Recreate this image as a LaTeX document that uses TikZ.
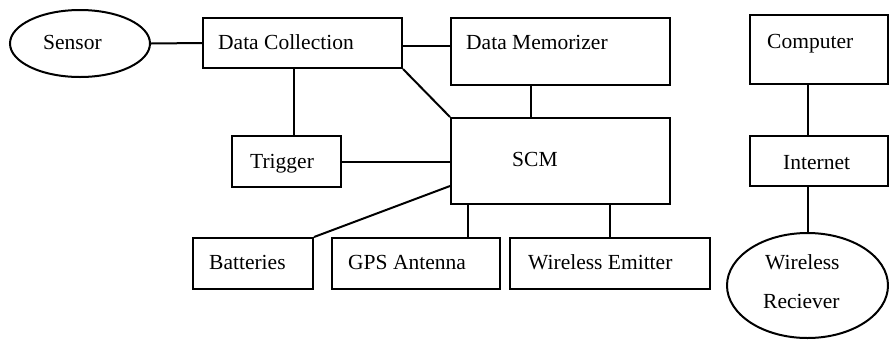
\documentclass[tikz,border=0pt]{standalone}
\usepackage{fontspec}
\setmainfont{Liberation Serif}
\usetikzlibrary{shapes.geometric}
\begin{document}
\begin{tikzpicture}[x=1pt,y=-1pt,
  box/.style={draw,line width=2pt,rectangle,inner sep=0pt,anchor=north west},
  oval/.style={draw,line width=2pt,ellipse,inner sep=0pt},
  txt/.style={anchor=mid west,inner sep=0pt,font=\fontsize{21.5}{24}\selectfont},
  link/.style={line width=2pt}]
\useasboundingbox (0,0) rectangle (889,341);

% blocks of the logger
\node[oval,minimum width=140pt,minimum height=67pt] (sensor) at (80,43.5) {};
\node[box,minimum width=199pt,minimum height=50pt] (dc) at (202,17) {};
\node[box,minimum width=219pt,minimum height=67pt] (dm) at (450,17) {};
\node[box,minimum width=109pt,minimum height=51pt] (trig) at (231,135) {};
\node[box,minimum width=219pt,minimum height=86pt] (scm) at (450,117) {};
\node[box,minimum width=120pt,minimum height=51pt] (bat) at (192,237) {};
\node[box,minimum width=168pt,minimum height=51pt] (gps) at (331,237) {};
\node[box,minimum width=200pt,minimum height=51pt] (we) at (509,237) {};

% receiving side
\node[box,minimum width=138pt,minimum height=69pt] (comp) at (749,14) {};
\node[box,minimum width=138pt,minimum height=50pt] (net) at (749,135) {};
\node[oval,minimum width=161pt,minimum height=105pt] (wr) at (807.5,285.5) {};

% labels
\node[txt] (t-sensor) at (43,47) {Sensor};
\node[txt] (t-dc) at (218,47) {Data Collection};
\node[txt] (t-dm) at (466,47) {Data Memorizer};
\node[txt] (t-trig) at (250,166) {Trigger};
\node[txt] (t-scm) at (512,164) {SCM};
\node[txt] (t-bat) at (209,267) {Batteries};
\node[txt] (t-gps) at (348,267) {GPS Antenna};
\node[txt] (t-we) at (528,267) {Wireless Emitter};
\node[txt] (t-comp) at (767,46) {Computer};
\node[txt] (t-net) at (783,167) {Internet};
\node[txt] (t-wr1) at (765,267) {Wireless};
\node[txt] (t-wr2) at (763,306) {Reciever};

% connections
\draw[link] (sensor.east) -- (dc.west);
\draw[link] ([yshift=-3pt]dc.east) -- ([yshift=-3pt]dc.east -| dm.west);
\draw[link] ([xshift=-8.5pt]dc.south) -- ([xshift=-8.5pt]dc.south |- trig.north);
\draw[link] (dc.south east) -- (scm.north west);
\draw[link] ([xshift=-29.5pt]dm.south) -- ([xshift=-29.5pt]dm.south |- scm.north);
\draw[link] (trig.east) -- (trig.east -| scm.west);
\draw[link] (bat.north east) -- ([yshift=-25pt]scm.west);
\draw[link] ([xshift=18pt]scm.south west) -- ([xshift=18pt]scm.south west |- gps.north);
\draw[link] (we.north |- scm.south) -- (we.north);
\draw[link] (wr.north |- comp.south) -- (wr.north |- net.north);
\draw[link] (wr.north |- net.south) -- (wr.north);
\end{tikzpicture}
\end{document}
